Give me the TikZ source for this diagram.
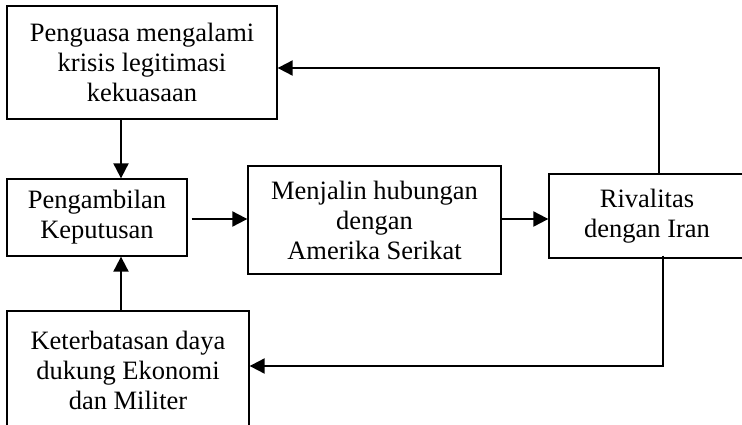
\documentclass[tikz,border=0pt]{standalone}
\usepackage{fontspec}
\setmainfont{Liberation Serif}
\usetikzlibrary{arrows.meta,calc}
\begin{document}
\begin{tikzpicture}[x=1pt,y=-1pt,
  box/.style={draw,line width=1.3pt,inner sep=0pt,align=center,
    font=\fontsize{26.5}{30}\selectfont},
  txt/.style={inner sep=0pt,align=center,font=\fontsize{26.5}{30}\selectfont},
  arr/.style={line width=2pt,-{Triangle[length=15pt,width=15pt]}},
  ln/.style={line width=2pt}]
\useasboundingbox (0,0) rectangle (742,424);
\clip (0,0) rectangle (742,424);
\node[box,minimum width=270pt,minimum height=113pt] (b1) at (142,62.5)
  {Penguasa mengalami\\krisis legitimasi\\kekuasaan};
\node[box,minimum width=180pt,minimum height=77pt] (b2) at (97,217.5)
  {Pengambilan\\Keputusan};
\node[box,minimum width=253pt,minimum height=108pt] (b3) at (374.5,220)
  {Menjalin hubungan\\dengan\\Amerika Serikat};
\node[box,minimum width=220pt,minimum height=84pt] (b4) at (659,216) {};
\node[txt] (b4t) at (647,216) {Rivalitas\\dengan Iran};
\node[box,minimum width=242pt,minimum height=118pt] (b5) at (128,370)
  {Keterbatasan daya\\dukung Ekonomi\\dan Militer};
\coordinate (c1) at (659,68);
\coordinate (c2) at (663,366);
\draw[arr] (b1.south -| 121,0) -- (b2.north -| 121,0);
\draw[arr] (b5.north -| 121,0) -- (b2.south -| 121,0);
\draw[arr] ([xshift=4pt]b2.east |- 0,219) -- (b3.west |- 0,219);
\draw[arr] (b3.east |- 0,219) -- (b4.west |- 0,219);
\draw[arr] (b4.north -| c1) -- (c1) -- (b1.east |- c1);
\draw[arr] ([yshift=3pt]b4.south -| c2) -- (c2) -- (b5.east |- c2);
\end{tikzpicture}
\end{document}
